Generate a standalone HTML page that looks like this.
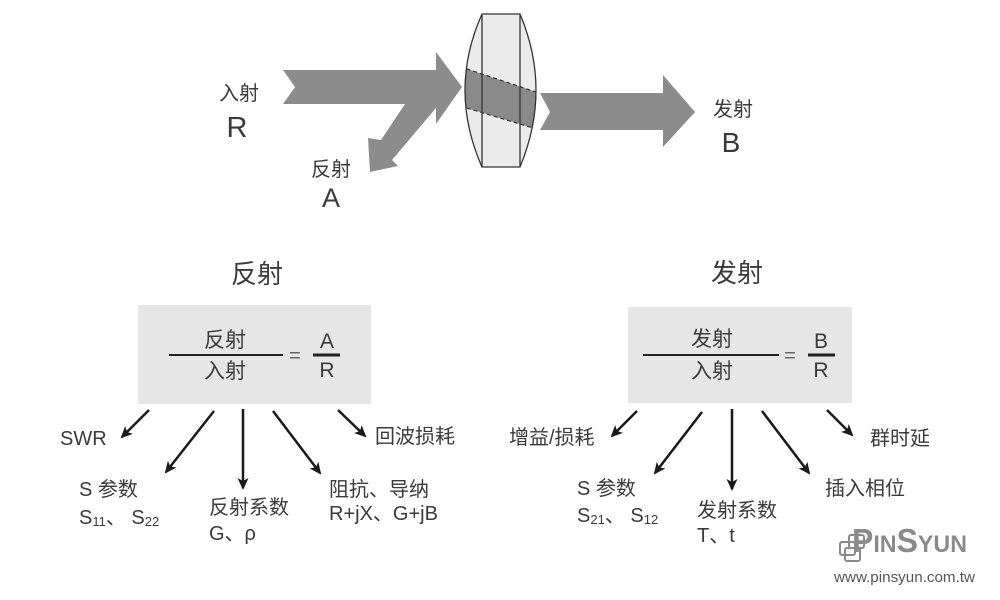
<!DOCTYPE html>
<html><head><meta charset="utf-8"><style>
html,body{margin:0;padding:0;background:#fff;}
svg{display:block;}
text{font-family:"Liberation Sans","Noto Sans CJK SC",sans-serif;fill:#3a3a3a;}
</style></head><body>
<svg width="1000" height="600" viewBox="0 0 1000 600" xmlns="http://www.w3.org/2000/svg">
<defs>
<marker id="ah" markerUnits="userSpaceOnUse" viewBox="0 0 12 12" refX="10" refY="6" markerWidth="12" markerHeight="12" orient="auto">
<path d="M0,0.5 L12,6 L0,11.5 L3,6 Z" fill="#1a1a1a"/>
</marker>
<clipPath id="lensclip"><path d="M482,14 L520,14 Q552,90 520,167 L482,167 Q448,90 482,14 Z"/></clipPath>
</defs>

<!-- incident + reflected arrow -->
<polygon points="283,70 436,70 436,52 462,87 436,124 436,108 392,160 398,166 370,172 368,138 381,140 405,104 283,104 295,87" fill="#8c8c8c"/>

<!-- lens -->
<path d="M482,14 L520,14 Q552,90 520,167 L482,167 Q448,90 482,14 Z" fill="#ebebeb"/>
<g clip-path="url(#lensclip)">
<polygon points="440,60 560,100 560,136 440,100" fill="#8a8a8a"/>
<line x1="440" y1="60" x2="560" y2="100" stroke="#333" stroke-width="1.2" stroke-dasharray="4,3"/>
<line x1="440" y1="100" x2="560" y2="136" stroke="#333" stroke-width="1.2" stroke-dasharray="4,3"/>
</g>
<path d="M482,14 L520,14 Q552,90 520,167 L482,167 Q448,90 482,14 Z" fill="none" stroke="#333" stroke-width="1.3"/>
<line x1="482" y1="14" x2="482" y2="167" stroke="#333" stroke-width="1.3"/>
<line x1="520" y1="14" x2="520" y2="167" stroke="#333" stroke-width="1.3"/>

<!-- transmitted arrow -->
<polygon points="540,93 663,93 663,75 695,112 663,147 663,130 540,130 550,112" fill="#8c8c8c"/>

<!-- top labels -->
<text x="239" y="100" font-size="20" text-anchor="middle">入射</text>
<text x="237" y="137" font-size="29" text-anchor="middle">R</text>
<text x="331" y="176" font-size="20" text-anchor="middle">反射</text>
<text x="331" y="207" font-size="27" text-anchor="middle">A</text>
<text x="733" y="116" font-size="20" text-anchor="middle">发射</text>
<text x="731" y="152" font-size="28" text-anchor="middle">B</text>

<!-- LEFT -->
<text x="257" y="283" font-size="26" text-anchor="middle">反射</text>
<rect x="138" y="305" width="233" height="99" fill="#e6e6e6"/>
<text x="225" y="347" font-size="21" text-anchor="middle">反射</text>
<line x1="169" y1="355" x2="283" y2="355" stroke="#222" stroke-width="2"/>
<text x="225" y="378" font-size="21" text-anchor="middle">入射</text>
<text x="295" y="362" font-size="20" text-anchor="middle" style="fill:#666">=</text>
<text x="327" y="348" font-size="21" text-anchor="middle">A</text>
<line x1="313" y1="355" x2="340" y2="355" stroke="#222" stroke-width="3"/>
<text x="327" y="377" font-size="21" text-anchor="middle">R</text>

<g stroke="#1a1a1a" stroke-width="2.5" marker-end="url(#ah)">
<line x1="149" y1="410" x2="122" y2="437"/>
<line x1="214" y1="411" x2="166" y2="472"/>
<line x1="243" y1="409" x2="243" y2="488"/>
<line x1="273" y1="411" x2="320" y2="473"/>
<line x1="338" y1="410" x2="365" y2="436"/>
</g>
<text x="60" y="445" font-size="20">SWR</text>
<text x="375" y="443" font-size="20">回波损耗</text>
<text x="79" y="496" font-size="20">S 参数</text>
<text x="79" y="524" font-size="20">S<tspan font-size="13" dy="2">11</tspan><tspan dy="-2">、 S</tspan><tspan font-size="13" dy="2">22</tspan></text>
<text x="209" y="514" font-size="20">反射系数</text>
<text x="209" y="540" font-size="20">G、ρ</text>
<text x="329" y="496" font-size="20">阻抗、导纳</text>
<text x="329" y="520" font-size="20">R+jX、G+jB</text>

<!-- RIGHT -->
<text x="737" y="282" font-size="26" text-anchor="middle">发射</text>
<rect x="628" y="307" width="224" height="96" fill="#e6e6e6"/>
<text x="712" y="346" font-size="21" text-anchor="middle">发射</text>
<line x1="643" y1="355" x2="779" y2="355" stroke="#222" stroke-width="2"/>
<text x="712" y="378" font-size="21" text-anchor="middle">入射</text>
<text x="790" y="362" font-size="20" text-anchor="middle" style="fill:#666">=</text>
<text x="821" y="348" font-size="21" text-anchor="middle">B</text>
<line x1="808" y1="355" x2="835" y2="355" stroke="#222" stroke-width="3"/>
<text x="821" y="377" font-size="21" text-anchor="middle">R</text>

<g stroke="#1a1a1a" stroke-width="2.5" marker-end="url(#ah)">
<line x1="637" y1="411" x2="612" y2="436"/>
<line x1="702" y1="412" x2="655" y2="473"/>
<line x1="732" y1="409" x2="732" y2="489"/>
<line x1="762" y1="411" x2="809" y2="473"/>
<line x1="827" y1="410" x2="852" y2="435"/>
</g>
<text x="509" y="444" font-size="20">增益/损耗</text>
<text x="870" y="445" font-size="20">群时延</text>
<text x="825" y="495" font-size="20">插入相位</text>
<text x="577" y="495" font-size="20">S 参数</text>
<text x="577" y="522" font-size="20">S<tspan font-size="13" dy="2">21</tspan><tspan dy="-2">、 S</tspan><tspan font-size="13" dy="2">12</tspan></text>
<text x="697" y="517" font-size="20">发射系数</text>
<text x="697" y="542" font-size="20">T、t</text>

<!-- logo -->
<g fill="none" stroke="#8a8a8a" stroke-width="2">
<rect x="840" y="542" width="15" height="13" rx="2"/>
<rect x="849" y="535" width="15" height="13" rx="2"/>
<rect x="845" y="548" width="15" height="13" rx="2"/>
</g>
<text x="852" y="552" font-size="24" font-weight="bold" textLength="115" lengthAdjust="spacingAndGlyphs" style="fill:#8a8a8a"><tspan font-size="33">P</tspan>IN<tspan font-size="33">S</tspan>YUN</text>
<text x="834" y="582" font-size="15" textLength="141" lengthAdjust="spacingAndGlyphs" style="fill:#555">www.pinsyun.com.tw</text>
</svg>
</body></html>
